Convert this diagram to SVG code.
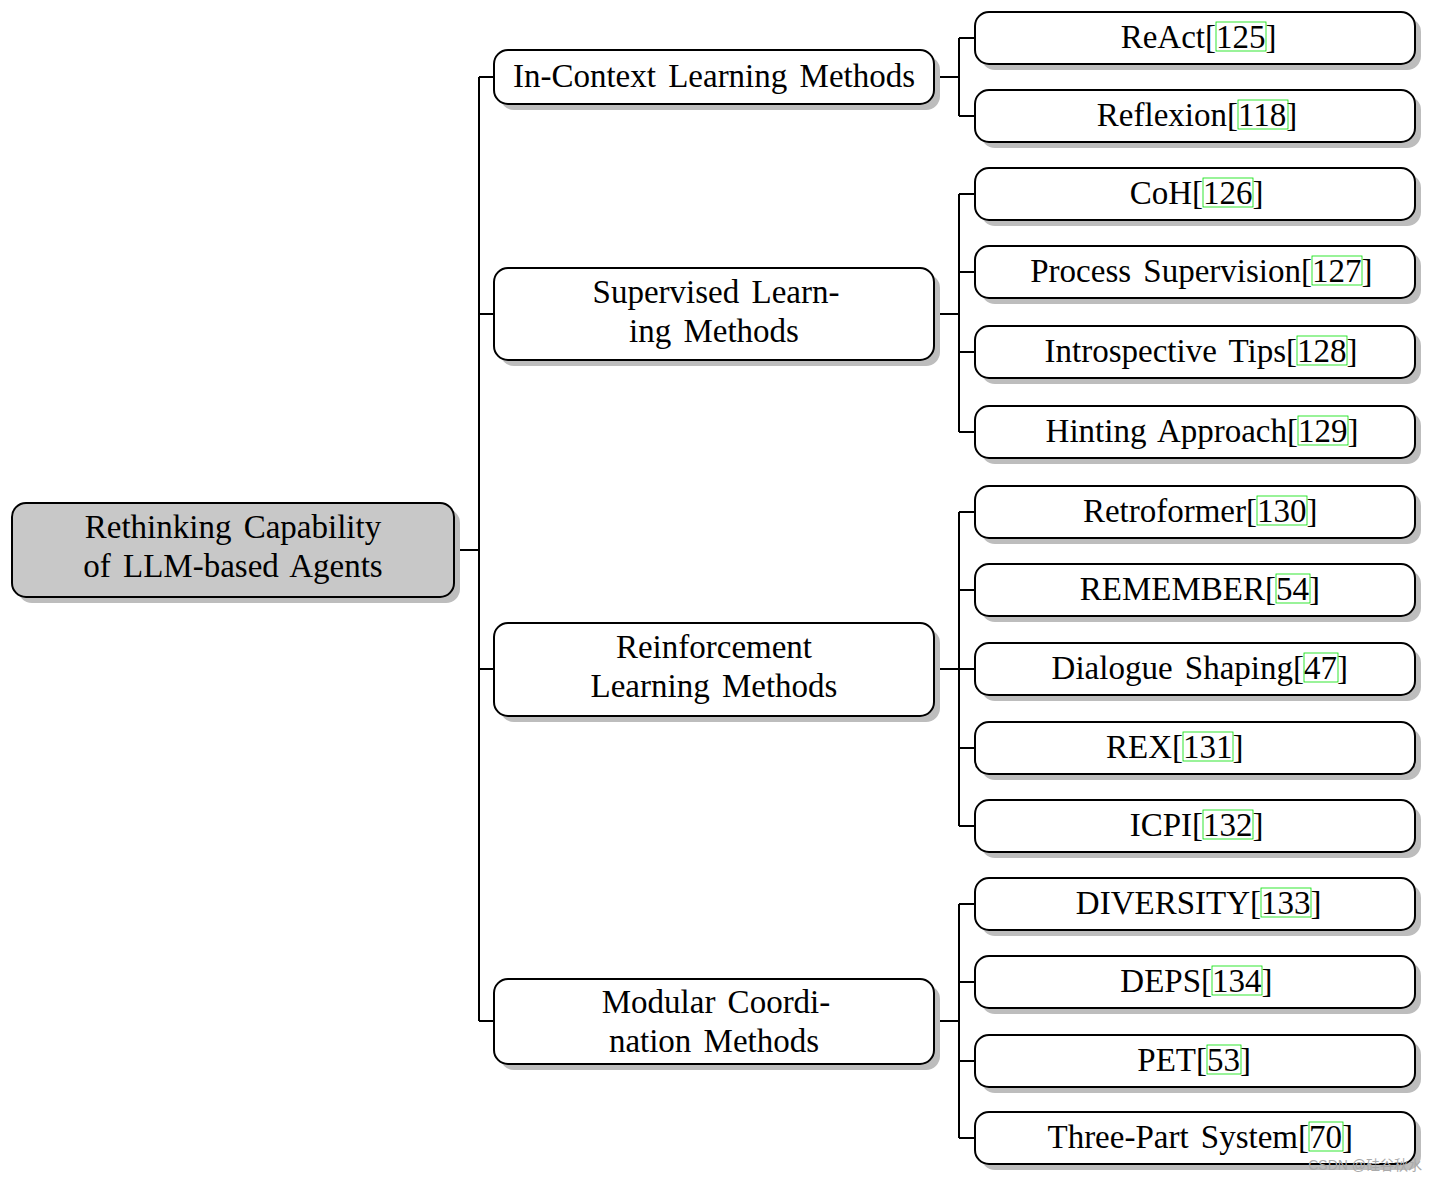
<svg xmlns="http://www.w3.org/2000/svg" width="1440" height="1182" viewBox="0 0 1440 1182">
<style>
.b{fill:#fff;stroke:#000;stroke-width:2}
.s{fill:#bdbdbd}
.t{font-family:"Liberation Serif",serif;font-size:33px;word-spacing:4px;fill:#000}
.c{fill:none;stroke:#00e000;stroke-width:0.8}
#connectors path{fill:none;stroke:#000;stroke-width:2}
</style>
<rect width="1440" height="1182" fill="#fff"/>
<g id="connectors">
<path d="M454 550H479M479 77V1021M479 77H494M479 314H494M479 669H494M479 1021H494"/>
<path d="M934 77H959M959 38V116M959 38H975M959 116H975"/>
<path d="M934 314H959M959 194V432M959 194H975M959 272H975M959 352H975M959 432H975"/>
<path d="M934 669H959M959 512V826M959 512H975M959 590H975M959 669H975M959 748H975M959 826H975"/>
<path d="M934 1021H959M959 904V1138M959 904H975M959 982H975M959 1061H975M959 1138H975"/>
</g>
<g id="root"><rect class="s" x="18" y="509" width="442" height="94" rx="14"/><rect x="12" y="503" width="442" height="94" rx="14" fill="#c8c8c8" stroke="#000" stroke-width="2"/>
<text class="t" x="233" y="538" text-anchor="middle">Rethinking Capability</text><text class="t" x="233" y="577" text-anchor="middle">of LLM-based Agents</text></g>
<g id="m1"><rect class="s" x="500" y="56" width="440" height="54" rx="14"/><rect class="b" x="494" y="50" width="440" height="54" rx="14"/><text class="t" x="714" y="87" text-anchor="middle">In-Context Learning Methods</text></g>
<g id="m2"><rect class="s" x="500" y="274" width="440" height="92" rx="14"/><rect class="b" x="494" y="268" width="440" height="92" rx="14"/><text class="t" x="716" y="303" text-anchor="middle">Supervised Learn-</text><text class="t" x="714" y="342" text-anchor="middle">ing Methods</text></g>
<g id="m3"><rect class="s" x="500" y="629" width="440" height="93" rx="14"/><rect class="b" x="494" y="623" width="440" height="93" rx="14"/><text class="t" x="714" y="658" text-anchor="middle">Reinforcement</text><text class="t" x="714" y="697" text-anchor="middle">Learning Methods</text></g>
<g id="m4"><rect class="s" x="500" y="985" width="440" height="85" rx="14"/><rect class="b" x="494" y="979" width="440" height="85" rx="14"/><text class="t" x="716" y="1013" text-anchor="middle">Modular Coordi-</text><text class="t" x="714" y="1052" text-anchor="middle">nation Methods</text></g>
<defs><g id="leafbox"><rect class="s" x="981" y="6" width="440" height="52" rx="14"/><rect class="b" x="975" y="0" width="440" height="52" rx="14"/></g></defs>
<g id="l1" transform="translate(0,12)"><use href="#leafbox"/><text class="t" x="1205" y="36" text-anchor="end">ReAct</text><text class="t" x="1205" y="36">[125]</text><rect class="c" x="1216" y="10" width="50" height="29"/></g>
<g id="l2" transform="translate(0,90)"><use href="#leafbox"/><text class="t" x="1227" y="36" text-anchor="end">Reflexion</text><text class="t" x="1227" y="36">[118]</text><rect class="c" x="1238" y="10" width="50" height="29"/></g>
<g id="l3" transform="translate(0,168)"><use href="#leafbox"/><text class="t" x="1192" y="36" text-anchor="end">CoH</text><text class="t" x="1192" y="36">[126]</text><rect class="c" x="1203" y="10" width="50" height="29"/></g>
<g id="l4" transform="translate(0,246)"><use href="#leafbox"/><text class="t" x="1301" y="36" text-anchor="end">Process Supervision</text><text class="t" x="1301" y="36">[127]</text><rect class="c" x="1312" y="10" width="50" height="29"/></g>
<g id="l5" transform="translate(0,326)"><use href="#leafbox"/><text class="t" x="1286" y="36" text-anchor="end">Introspective Tips</text><text class="t" x="1286" y="36">[128]</text><rect class="c" x="1297" y="10" width="50" height="29"/></g>
<g id="l6" transform="translate(0,406)"><use href="#leafbox"/><text class="t" x="1287" y="36" text-anchor="end">Hinting Approach</text><text class="t" x="1287" y="36">[129]</text><rect class="c" x="1298" y="10" width="50" height="29"/></g>
<g id="l7" transform="translate(0,486)"><use href="#leafbox"/><text class="t" x="1246" y="36" text-anchor="end">Retroformer</text><text class="t" x="1246" y="36">[130]</text><rect class="c" x="1257" y="10" width="50" height="29"/></g>
<g id="l8" transform="translate(0,564)"><use href="#leafbox"/><text class="t" x="1265" y="36" text-anchor="end">REMEMBER</text><text class="t" x="1265" y="36">[54]</text><rect class="c" x="1276" y="10" width="34" height="29"/></g>
<g id="l9" transform="translate(0,643)"><use href="#leafbox"/><text class="t" x="1293" y="36" text-anchor="end">Dialogue Shaping</text><text class="t" x="1293" y="36">[47]</text><rect class="c" x="1304" y="10" width="34" height="29"/></g>
<g id="l10" transform="translate(0,722)"><use href="#leafbox"/><text class="t" x="1172" y="36" text-anchor="end">REX</text><text class="t" x="1172" y="36">[131]</text><rect class="c" x="1183" y="10" width="50" height="29"/></g>
<g id="l11" transform="translate(0,800)"><use href="#leafbox"/><text class="t" x="1192" y="36" text-anchor="end">ICPI</text><text class="t" x="1192" y="36">[132]</text><rect class="c" x="1203" y="10" width="50" height="29"/></g>
<g id="l12" transform="translate(0,878)"><use href="#leafbox"/><text class="t" x="1250" y="36" text-anchor="end">DIVERSITY</text><text class="t" x="1250" y="36">[133]</text><rect class="c" x="1261" y="10" width="50" height="29"/></g>
<g id="l13" transform="translate(0,956)"><use href="#leafbox"/><text class="t" x="1201" y="36" text-anchor="end">DEPS</text><text class="t" x="1201" y="36">[134]</text><rect class="c" x="1212" y="10" width="50" height="29"/></g>
<g id="l14" transform="translate(0,1035)"><use href="#leafbox"/><text class="t" x="1196" y="36" text-anchor="end">PET</text><text class="t" x="1196" y="36">[53]</text><rect class="c" x="1207" y="10" width="34" height="29"/></g>
<g id="l15" transform="translate(0,1112)"><use href="#leafbox"/><text class="t" x="1298" y="36" text-anchor="end">Three-Part System</text><text class="t" x="1298" y="36">[70]</text><rect class="c" x="1309" y="10" width="34" height="29"/></g>
<text x="1422" y="1170" text-anchor="end" font-family="'Liberation Sans','Noto Sans CJK SC',sans-serif" font-size="14" fill="#aaa">CSDN @硅谷秋水</text>
</svg>
